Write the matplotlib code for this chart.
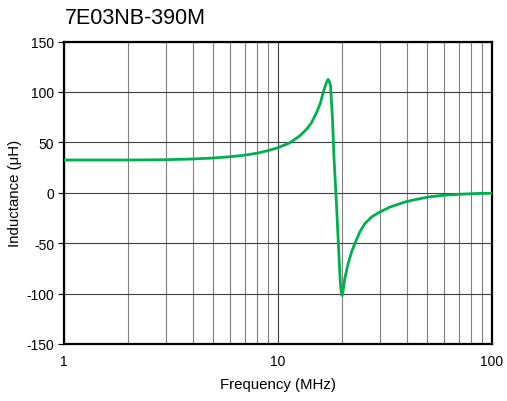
import matplotlib
matplotlib.use("Agg")
import matplotlib.pyplot as plt
from matplotlib.ticker import FixedLocator, NullFormatter

plt.rcParams['font.family'] = ['Liberation Sans', 'DejaVu Sans']
plt.rcParams['axes.unicode_minus'] = False

# values
freq_mhz = [1, 2, 3, 4, 5, 6, 7, 8, 9, 10, 11.38, 12.67, 13.62, 14.37,
            15.17, 15.83, 16.28, 16.76, 17.0, 17.18, 17.4, 17.64, 18.01, 18.27,
            18.8, 19.28, 19.6, 19.85, 20.0, 20.2, 20.56, 21.31, 22.11, 22.89,
            24.16, 25.5, 27.41, 29.97, 33.38, 35.2, 39.22, 42.2, 50.4, 60.3,
            72.2, 86.3, 100]
inductance_uh = [32.5, 32.5, 32.8, 33.5, 34.5, 35.8, 37.3, 39.3, 41.8, 44.7,
                 49.6, 56.5, 63, 69.6, 79.5, 89.4, 99.4, 107.6, 111,
                 112.5, 110.5, 106, 73, 38, -12, -60, -90, -101, -102, -97,
                 -85, -70.3, -58.7, -50.5, -38.9, -30.7, -24, -19.1, -14.2,
                 -12.6, -9.2, -7.6, -4.2, -2.4, -1.4, -0.7, -0.5]
y_ticks = [-150, -100, -50, 0, 50, 100, 150]
x_ticks = [1, 10, 100]
x_minor = [2, 3, 4, 5, 6, 7, 8, 9, 20, 30, 40, 50, 60, 70, 80, 90]

fig = plt.figure(figsize=(5.07, 4.02), dpi=100)
ax = fig.add_axes([0.126, 0.142, 0.844, 0.752])

ax.plot(freq_mhz, inductance_uh, color='#00B050', lw=2.0, zorder=3)

ax.set_xscale('log')
ax.set_xlim(1, 100)
ax.set_ylim(-150, 150)
ax.xaxis.set_major_locator(FixedLocator(x_ticks))
ax.xaxis.set_minor_locator(FixedLocator(x_minor))
ax.xaxis.set_minor_formatter(NullFormatter())
ax.set_xticklabels(['1', '10', '100'])
ax.set_yticks(y_ticks)

ax.grid(True, which='major', axis='both', color='#404040', lw=0.8)
ax.grid(True, which='minor', axis='x', color='#808080', lw=0.8)

ax.tick_params(axis='x', which='both', length=0, labelsize=10, pad=7)
ax.tick_params(axis='y', length=4, width=0.8, labelsize=10, pad=3)

for s in ax.spines.values():
    s.set_linewidth(1.6)
    s.set_color('black')

ax.set_xlabel('Frequency (MHz)', fontsize=10.8, labelpad=7)
ax.set_ylabel('Inductance (μH)', fontsize=10.8, labelpad=3)
fig.text(0.127, 0.955, '7E03NB-390M', fontsize=15.5, ha='left', va='center')

fig.savefig('out.png', dpi=100)
